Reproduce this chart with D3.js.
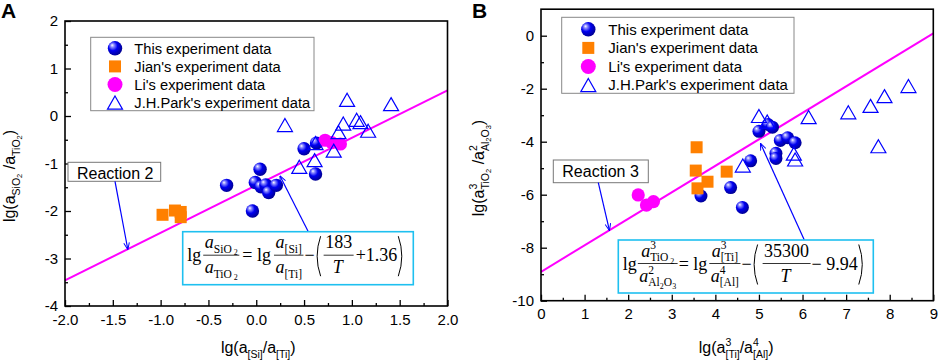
<!DOCTYPE html>
<html lang="en">
<head>
<meta charset="utf-8">
<title>activity plots</title>
<script src="https://cdn.jsdelivr.net/npm/d3@7"></script>
<style>
  body { margin: 0; background: #fff; }
  svg { display: block; }
</style>
</head>
<body>
<svg width="941" height="363"></svg>
<script>
// ---- data ----
const seriesNames = ["This experiment data", "Jian's experiment data", "Li's experiment data", "J.H.Park's experiment data"];

// panel A : lg(aSi/aTi) vs lg(aSiO2/aTiO2)
const thisA = [[-0.31,-1.46],[0.04,-1.12],[-0.01,-1.40],[0.05,-1.49],[0.10,-1.45],[0.13,-1.61],[0.21,-1.46],[-0.04,-2.00],[0.50,-0.69],[0.62,-1.22],[0.63,-0.57]];
const jianA = [[-0.98,-2.08],[-0.85,-1.99],[-0.79,-2.02],[-0.79,-2.13]];
const liA = [[0.72,-0.51],[0.79,-0.56],[0.88,-0.59]];
const parkA = [[0.30,-0.19],[0.95,0.34],[1.41,0.25],[0.91,-0.16],[1.05,-0.08],[1.09,-0.13],[1.17,-0.31],[0.86,-0.34],[0.81,-0.73],[0.61,-0.93],[0.45,-1.07],[0.62,-0.57]];
const lineA = [[-2,-3.46],[2,0.54]];
const xTicksA = [-2,-1.5,-1,-0.5,0,0.5,1,1.5,2];
const yTicksA = [-4,-3,-2,-1,0,1,2];

// panel B : lg(aTi^3/aAl^4) vs lg(aTiO2^3/aAl2O3^2)
const thisB = [[5.00,-3.61],[5.21,-3.35],[5.31,-3.45],[5.49,-3.95],[5.66,-3.85],[5.83,-4.04],[5.39,-4.44],[5.39,-4.63],[4.81,-4.72],[4.35,-5.73],[4.62,-6.48],[3.67,-6.05]];
const jianB = [[3.57,-4.21],[3.55,-5.09],[4.26,-5.13],[3.82,-5.51],[3.59,-5.76]];
const liB = [[2.23,-6.01],[2.42,-6.39],[2.58,-6.26]];
const parkB = [[5.00,-3.03],[5.19,-3.24],[6.14,-3.07],[7.05,-2.89],[7.56,-2.65],[7.88,-2.28],[8.43,-1.90],[7.74,-4.17],[4.63,-4.90],[5.80,-4.45],[5.83,-4.67]];
const lineB = [[0,-8.91],[9,0.09]];
const xTicksB = [0,1,2,3,4,5,6,7,8,9];
const yTicksB = [-10,-8,-6,-4,-2,0];

const SANS = "'Liberation Sans', Arial, sans-serif";
const SERIF = "'Liberation Serif', 'Times New Roman', serif";
const BLUE = "#0000ff", ORANGE = "#ff8000", MAGENTA = "#ff00ff", CYAN = "#1ec0f0";
const EQ_FS = 18;

const svg = d3.select("svg");
const defs = svg.append("defs");
const grad = defs.append("radialGradient").attr("id", "sph")
  .attr("cx", "0.4").attr("cy", "0.4").attr("r", "0.65").attr("fx", "0.3").attr("fy", "0.28");
grad.append("stop").attr("offset", "0").attr("stop-color", "#ffffff");
grad.append("stop").attr("offset", "0.18").attr("stop-color", "#9090ff");
grad.append("stop").attr("offset", "0.5").attr("stop-color", "#0000f0");
grad.append("stop").attr("offset", "1").attr("stop-color", "#00008a");
defs.append("marker").attr("id", "ah").attr("viewBox", "0 0 10 10")
  .attr("refX", 9).attr("refY", 5).attr("markerWidth", 7).attr("markerHeight", 7)
  .attr("orient", "auto").attr("markerUnits", "userSpaceOnUse")
  .append("path").attr("d", "M0,1 L10,5 L0,9").attr("fill", "none").attr("stroke", BLUE).attr("stroke-width", 1.4);

// text runs with sub/superscripts; o = baseline offset, back = start under previous run
function addRuns(text, runs, fs) {
  let cur = 0, prevLen = 0;
  runs.forEach(r => {
    const o = r.o || 0;
    const ts = text.append("tspan").text(r.s).attr("font-size", r.fs || fs).attr("dy", o - cur);
    if (r.i) ts.attr("font-style", "italic");
    if (r.back) ts.attr("dx", -prevLen);
    cur = o;
    prevLen = ts.node().getComputedTextLength();
  });
  return text;
}

// markers
function sphere(g, x, y, r) {
  g.append("circle").attr("cx", x).attr("cy", y).attr("r", r).attr("fill", "url(#sph)");
}
function square(g, x, y, s) {
  g.append("rect").attr("x", x - s / 2).attr("y", y - s / 2).attr("width", s).attr("height", s).attr("fill", ORANGE);
}
function dot(g, x, y, r) {
  g.append("circle").attr("cx", x).attr("cy", y).attr("r", r).attr("fill", MAGENTA);
}
function tri(g, x, y, w) {
  const h = w * 0.87;
  g.append("path").attr("d", `M${x},${y - h / 2}L${x + w / 2},${y + h / 2}L${x - w / 2},${y + h / 2}Z`)
    .attr("fill", "none").attr("stroke", BLUE).attr("stroke-width", 1.2);
}

// equation box helper: sequential layout
function drawEq(g, x0, y0, items) {
  let x = x0;
  items.forEach(it => {
    if (it.runs) {
      const t = g.append("text").attr("x", x).attr("y", y0).attr("font-family", SERIF);
      addRuns(t, it.runs, EQ_FS);
      x += t.node().getBBox().width + (it.gap || 0);
    } else if (it.num) {
      const tn = addRuns(g.append("text").attr("y", y0 - 13).attr("font-family", SERIF), it.num, EQ_FS);
      const td = addRuns(g.append("text").attr("y", y0 + 12).attr("font-family", SERIF), it.den, EQ_FS);
      const wn = tn.node().getBBox().width, wd = td.node().getBBox().width;
      const w = Math.max(wn, wd) + 3;
      tn.attr("x", x + (w - wn) / 2);
      td.attr("x", x + (w - wd) / 2);
      g.append("line").attr("x1", x).attr("x2", x + w).attr("y1", y0 - 6).attr("y2", y0 - 6)
        .attr("stroke", "#000").attr("stroke-width", 0.8);
      x += w + (it.gap || 0);
    } else if (it.paren) {
      const d = it.paren === "(" ?
        `M${x + 6},${y0 - 25} Q${x - 1},${y0 - 5} ${x + 6},${y0 + 15}` :
        `M${x},${y0 - 25} Q${x + 7},${y0 - 5} ${x},${y0 + 15}`;
      g.append("path").attr("d", d).attr("fill", "none").attr("stroke", "#000").attr("stroke-width", 1);
      x += 7 + (it.gap || 0);
    }
  });
}

function panel(cfg) {
  const g = svg.append("g");
  const x = d3.scaleLinear().domain(cfg.xDomain).range([cfg.left, cfg.right]);
  const y = d3.scaleLinear().domain(cfg.yDomain).range([cfg.bottom, cfg.top]);

  // axes, ticks pointing inward
  g.append("g").attr("transform", `translate(0,${cfg.bottom})`)
    .call(d3.axisBottom(x).tickValues(cfg.xMinor).tickSize(-3).tickFormat(""))
    .call(a => a.select(".domain").remove());
  g.append("g").attr("transform", `translate(0,${cfg.bottom})`)
    .call(d3.axisBottom(x).tickValues(cfg.xTicks).tickSize(-6).tickPadding(8).tickFormat(cfg.xFmt))
    .call(a => a.select(".domain").remove())
    .call(a => a.selectAll("text").attr("font-family", SANS).attr("font-size", 15).attr("fill", "#000"));
  g.append("g").attr("transform", `translate(${cfg.left},0)`)
    .call(d3.axisLeft(y).tickValues(cfg.yMinor).tickSize(-3).tickFormat(""))
    .call(a => a.select(".domain").remove());
  g.append("g").attr("transform", `translate(${cfg.left},0)`)
    .call(d3.axisLeft(y).tickValues(cfg.yTicks).tickSize(-6).tickPadding(7).tickFormat(d => String(d)))
    .call(a => a.select(".domain").remove())
    .call(a => a.selectAll("text").attr("font-family", SANS).attr("font-size", 15).attr("fill", "#000"));
  g.selectAll(".tick line").attr("stroke", "#000").attr("stroke-width", 1.3);

  // fitted line
  const clip = "clip" + cfg.id;
  defs.append("clipPath").attr("id", clip).append("rect")
    .attr("x", cfg.left).attr("y", cfg.top).attr("width", cfg.right - cfg.left).attr("height", cfg.bottom - cfg.top);
  g.append("path").datum(cfg.line).attr("clip-path", `url(#${clip})`)
    .attr("d", d3.line().x(d => x(d[0])).y(d => y(d[1])))
    .attr("fill", "none").attr("stroke", MAGENTA).attr("stroke-width", 2);

  // points
  const pg = g.append("g");
  cfg.s1.forEach(d => sphere(pg, x(d[0]), y(d[1]), cfg.r));
  cfg.s2.forEach(d => square(pg, x(d[0]), y(d[1]), 12));
  cfg.s3.forEach(d => dot(pg, x(d[0]), y(d[1]), 6.6));
  cfg.s4.forEach(d => tri(pg, x(d[0]), y(d[1]), 15));

  // frame
  g.append("rect").attr("x", cfg.left).attr("y", cfg.top)
    .attr("width", cfg.right - cfg.left).attr("height", cfg.bottom - cfg.top)
    .attr("fill", "none").attr("stroke", "#000").attr("stroke-width", 1.6);

  // legend
  const L = cfg.legend;
  g.append("rect").attr("x", L.x).attr("y", L.y).attr("width", L.w).attr("height", L.h)
    .attr("fill", "#fff").attr("stroke", "#888").attr("stroke-width", 1);
  const drawers = [
    (gg, cx, cy) => sphere(gg, cx, cy, 7.2),
    (gg, cx, cy) => square(gg, cx, cy, 12),
    (gg, cx, cy) => dot(gg, cx, cy, 7.5),
    (gg, cx, cy) => tri(gg, cx, cy, 15)
  ];
  seriesNames.forEach((name, i) => {
    const cy = L.row0 + i * L.step;
    drawers[i](g, L.mx, cy);
    g.append("text").attr("x", L.tx).attr("y", cy + 5.3).attr("font-family", SANS)
      .attr("font-size", L.fs).attr("fill", "#000").text(name);
  });

  // reaction label + arrow
  const R = cfg.reaction;
  g.append("rect").attr("x", R.x).attr("y", R.y).attr("width", R.w).attr("height", R.h)
    .attr("fill", "#fff").attr("stroke", "#777").attr("stroke-width", 1);
  g.append("text").attr("x", R.x + 9).attr("y", R.y + 16.5).attr("font-family", SANS)
    .attr("font-size", 16).attr("fill", "#000").text(R.text);
  g.append("line").attr("x1", R.ax).attr("y1", R.y + R.h)
    .attr("x2", x(R.to[0])).attr("y2", y(R.to[1]))
    .attr("stroke", BLUE).attr("stroke-width", 1.2).attr("marker-end", "url(#ah)");

  // equation box + pointer
  const E = cfg.eq;
  g.append("line").attr("x1", E.ax).attr("y1", E.y).attr("x2", x(E.to[0])).attr("y2", y(E.to[1]))
    .attr("stroke", BLUE).attr("stroke-width", 1.2).attr("marker-end", "url(#ah)");
  g.append("rect").attr("x", E.x).attr("y", E.y).attr("width", E.w).attr("height", E.h)
    .attr("fill", "#fff").attr("stroke", CYAN).attr("stroke-width", 1.6);
  drawEq(g, E.x + 4.5, E.y + 29.5, E.items);

  // axis titles
  g.append("text").attr("x", (cfg.left + cfg.right) / 2 + cfg.xtDx).attr("y", 353)
    .attr("text-anchor", "middle").attr("font-family", SANS).attr("fill", "#000")
    .call(t => addRuns(t, cfg.xTitle, 16));
  g.append("text").attr("transform", `translate(${cfg.ytX},${cfg.ytY}) rotate(-90)`)
    .attr("text-anchor", "middle").attr("font-family", SANS).attr("fill", "#000")
    .call(t => addRuns(t, cfg.yTitle, 16));

  // panel letter
  g.append("text").attr("x", cfg.letterX).attr("y", 18).attr("font-family", SANS)
    .attr("font-weight", "bold").attr("font-size", 21).attr("fill", "#000").text(cfg.letter);
}

const sub = (s) => ({ s, o: 4.5, fs: 10.5 });
const sub2 = (s) => ({ s, o: 6.5, fs: 7.5 });
const sup = (s) => ({ s, o: -7, fs: 10.5 });
const subBack = (s) => ({ s, o: 4.5, fs: 10.5, back: true });
const ai = { s: "a", i: true };
// equation-size scripts
const es = (s) => ({ s, o: 4.5, fs: 11.5 });
const es2 = (s) => ({ s, o: 7, fs: 8 });
const eup = (s) => ({ s, o: -8, fs: 11.5 });
const esb = (s) => ({ s, o: 4.5, fs: 11.5, back: true });

panel({
  id: "A", letter: "A", letterX: 1,
  xDomain: [-2, 2], yDomain: [-4, 2],
  left: 65, right: 447.5, top: 21, bottom: 306,
  xTicks: xTicksA, xMinor: d3.range(-1.75, 2, 0.5), xFmt: d => d.toFixed(1),
  yTicks: yTicksA, yMinor: d3.range(-3.5, 2, 1),
  line: lineA, s1: thisA, s2: jianA, s3: liA, s4: parkA, r: 6.7,
  legend: { x: 90.7, y: 37.3, w: 223.3, h: 73.4, row0: 48.3, step: 18.1, mx: 115, tx: 134.3, fs: 14.7 },
  reaction: { x: 68, y: 162.3, w: 92.7, h: 19, text: "Reaction 2", ax: 115, to: [-1.344, -2.80] },
  eq: { x: 182.7, y: 231.7, w: 230.6, h: 53, ax: 308.3, to: [0.25, -1.27],
    items: [
      { runs: [{ s: "lg" }], gap: 2 },
      { num: [ai, es("SiO"), es2(" 2")], den: [ai, es("TiO"), es2(" 2")], gap: 3 },
      { runs: [{ s: "= lg" }], gap: 3 },
      { num: [ai, es("[Si]")], den: [ai, es("[Ti]")], gap: 1 },
      { runs: [{ s: "\u2212" }], gap: 0 },
      { paren: "(", gap: 2 },
      { num: [{ s: "183" }], den: [{ s: "T", i: true }], gap: 2 },
      { runs: [{ s: "+1.36" }], gap: 1 },
      { paren: ")" }
    ] },
  xTitle: [{ s: "lg(a" }, sub("[Si]"), { s: "/a" }, sub("[Ti]"), { s: ")" }], xtDx: 2,
  yTitle: [{ s: "lg(a" }, sub("SiO"), sub2("2"), { s: " /a" }, sub("TiO"), sub2("2"), { s: ")" }],
  ytX: 15, ytY: 176
});

panel({
  id: "B", letter: "B", letterX: 472,
  xDomain: [0, 9], yDomain: [-10, 1],
  left: 541, right: 933.3, top: 9.2, bottom: 300.7,
  xTicks: xTicksB, xMinor: d3.range(0.5, 9, 1), xFmt: d => String(d),
  yTicks: yTicksB, yMinor: d3.range(-9, 1, 2),
  line: lineB, s1: thisB, s2: jianB, s3: liB, s4: parkB, r: 6.5,
  legend: { x: 561.7, y: 17.3, w: 232.3, h: 76, row0: 29.3, step: 18.6, mx: 588.3, tx: 608.3, fs: 15 },
  reaction: { x: 553.3, y: 160, w: 95, h: 22.7, text: "Reaction 3", ax: 598.3, to: [1.567, -7.33] },
  eq: { x: 618.3, y: 240, w: 255, h: 53, ax: 804.3, to: [5.04, -4.08],
    items: [
      { runs: [{ s: "lg" }], gap: 1 },
      { num: [ai, eup("3"), esb("TiO"), es2(" 2")],
        den: [ai, eup("2"), esb("Al"), es2("2"), es("O"), es2("3")], gap: 1 },
      { runs: [{ s: "= lg" }], gap: 2 },
      { num: [ai, eup("3"), esb("[Ti]")], den: [ai, eup("4"), esb("[Al]")], gap: 1 },
      { runs: [{ s: "\u2212" }], gap: 0 },
      { paren: "(", gap: 4 },
      { num: [{ s: "35300" }], den: [{ s: "T", i: true }], gap: 1 },
      { runs: [{ s: "\u2212 9.94" }], gap: 1 },
      { paren: ")" }
    ] },
  xTitle: [{ s: "lg(a" }, sup("3"), subBack("[Ti]"), { s: "/a" }, sup("4"), subBack("[Al]"), { s: ")" }], xtDx: -1,
  yTitle: [{ s: "lg(a" }, sup("3"), subBack("TiO"), sub2("2"), { s: " /a" }, sup("2"), subBack("Al"), sub2("2"), sub("O"), sub2("3"), { s: ")" }],
  ytX: 484, ytY: 168
});
</script>
</body>
</html>
